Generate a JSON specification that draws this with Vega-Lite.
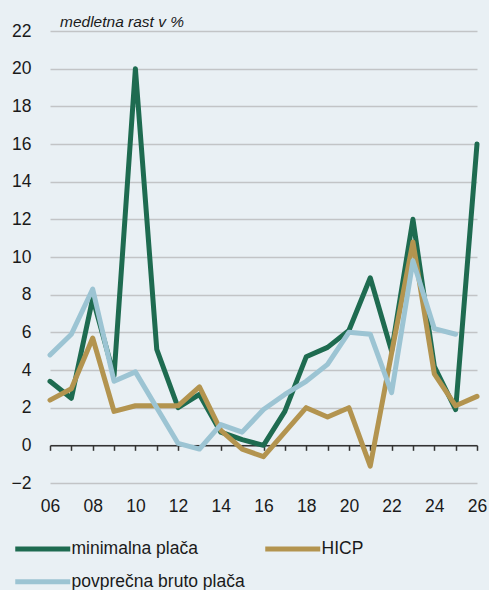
{
  "$schema": "https://vega.github.io/schema/vega-lite/v6.json",
  "width": 427,
  "height": 452,
  "autosize": {"type": "none"},
  "padding": {"left": 50, "top": 31, "right": 12, "bottom": 107},
  "background": "#e9f0f4",
  "config": {"view": {"stroke": null}, "font": "Liberation Sans"},
  "title": {
    "text": "medletna rast v %",
    "anchor": "start",
    "frame": "group",
    "fontStyle": "italic",
    "fontWeight": "normal",
    "fontSize": 15.5,
    "font": "Liberation Sans",
    "color": "#1a1a1a",
    "dx": 10,
    "offset": -8
  },
  "data": {
    "values": [
      {"leto": 2006, "serija": "minimalna plača", "vrednost": 3.4},
      {"leto": 2007, "serija": "minimalna plača", "vrednost": 2.5},
      {"leto": 2008, "serija": "minimalna plača", "vrednost": 7.8},
      {"leto": 2009, "serija": "minimalna plača", "vrednost": 3.7},
      {"leto": 2010, "serija": "minimalna plača", "vrednost": 20.0},
      {"leto": 2011, "serija": "minimalna plača", "vrednost": 5.1},
      {"leto": 2012, "serija": "minimalna plača", "vrednost": 2.0},
      {"leto": 2013, "serija": "minimalna plača", "vrednost": 2.7},
      {"leto": 2014, "serija": "minimalna plača", "vrednost": 0.7},
      {"leto": 2015, "serija": "minimalna plača", "vrednost": 0.3},
      {"leto": 2016, "serija": "minimalna plača", "vrednost": 0.0},
      {"leto": 2017, "serija": "minimalna plača", "vrednost": 1.8},
      {"leto": 2018, "serija": "minimalna plača", "vrednost": 4.7},
      {"leto": 2019, "serija": "minimalna plača", "vrednost": 5.2},
      {"leto": 2020, "serija": "minimalna plača", "vrednost": 6.1},
      {"leto": 2021, "serija": "minimalna plača", "vrednost": 8.9},
      {"leto": 2022, "serija": "minimalna plača", "vrednost": 5.0},
      {"leto": 2023, "serija": "minimalna plača", "vrednost": 12.0},
      {"leto": 2024, "serija": "minimalna plača", "vrednost": 4.2},
      {"leto": 2025, "serija": "minimalna plača", "vrednost": 1.9},
      {"leto": 2026, "serija": "minimalna plača", "vrednost": 16.0},
      {"leto": 2006, "serija": "HICP", "vrednost": 2.4},
      {"leto": 2007, "serija": "HICP", "vrednost": 3.0},
      {"leto": 2008, "serija": "HICP", "vrednost": 5.7},
      {"leto": 2009, "serija": "HICP", "vrednost": 1.8},
      {"leto": 2010, "serija": "HICP", "vrednost": 2.1},
      {"leto": 2011, "serija": "HICP", "vrednost": 2.1},
      {"leto": 2012, "serija": "HICP", "vrednost": 2.1},
      {"leto": 2013, "serija": "HICP", "vrednost": 3.1},
      {"leto": 2014, "serija": "HICP", "vrednost": 0.8},
      {"leto": 2015, "serija": "HICP", "vrednost": -0.2},
      {"leto": 2016, "serija": "HICP", "vrednost": -0.6},
      {"leto": 2017, "serija": "HICP", "vrednost": 0.7},
      {"leto": 2018, "serija": "HICP", "vrednost": 2.0},
      {"leto": 2019, "serija": "HICP", "vrednost": 1.5},
      {"leto": 2020, "serija": "HICP", "vrednost": 2.0},
      {"leto": 2021, "serija": "HICP", "vrednost": -1.1},
      {"leto": 2022, "serija": "HICP", "vrednost": 4.9},
      {"leto": 2023, "serija": "HICP", "vrednost": 10.8},
      {"leto": 2024, "serija": "HICP", "vrednost": 3.8},
      {"leto": 2025, "serija": "HICP", "vrednost": 2.1},
      {"leto": 2026, "serija": "HICP", "vrednost": 2.6},
      {"leto": 2006, "serija": "povprečna bruto plača", "vrednost": 4.8},
      {"leto": 2007, "serija": "povprečna bruto plača", "vrednost": 5.9},
      {"leto": 2008, "serija": "povprečna bruto plača", "vrednost": 8.3},
      {"leto": 2009, "serija": "povprečna bruto plača", "vrednost": 3.4},
      {"leto": 2010, "serija": "povprečna bruto plača", "vrednost": 3.9},
      {"leto": 2011, "serija": "povprečna bruto plača", "vrednost": 2.0},
      {"leto": 2012, "serija": "povprečna bruto plača", "vrednost": 0.1},
      {"leto": 2013, "serija": "povprečna bruto plača", "vrednost": -0.2},
      {"leto": 2014, "serija": "povprečna bruto plača", "vrednost": 1.1},
      {"leto": 2015, "serija": "povprečna bruto plača", "vrednost": 0.7},
      {"leto": 2016, "serija": "povprečna bruto plača", "vrednost": 1.9},
      {"leto": 2017, "serija": "povprečna bruto plača", "vrednost": 2.7},
      {"leto": 2018, "serija": "povprečna bruto plača", "vrednost": 3.4},
      {"leto": 2019, "serija": "povprečna bruto plača", "vrednost": 4.3},
      {"leto": 2020, "serija": "povprečna bruto plača", "vrednost": 6.0},
      {"leto": 2021, "serija": "povprečna bruto plača", "vrednost": 5.9},
      {"leto": 2022, "serija": "povprečna bruto plača", "vrednost": 2.8},
      {"leto": 2023, "serija": "povprečna bruto plača", "vrednost": 9.8},
      {"leto": 2024, "serija": "povprečna bruto plača", "vrednost": 6.2},
      {"leto": 2025, "serija": "povprečna bruto plača", "vrednost": 5.9}
    ]
  },
  "mark": {"type": "line", "strokeWidth": 5, "strokeJoin": "round", "strokeCap": "round"},
  "encoding": {
    "x": {
      "field": "leto",
      "type": "quantitative",
      "scale": {"domain": [2006, 2026], "nice": false, "zero": false},
      "axis": {
        "orient": "bottom",
        "offset": -37.67,
        "values": [2006, 2007, 2008, 2009, 2010, 2011, 2012, 2013, 2014, 2015, 2016, 2017, 2018, 2019, 2020, 2021, 2022, 2023, 2024, 2025, 2026],
        "labelExpr": "datum.value % 2 == 0 ? ((datum.value - 2000 < 10 ? '0' : '') + (datum.value - 2000)) : ''",
        "grid": false,
        "domain": true,
        "domainColor": "#333333",
        "domainWidth": 1.5,
        "ticks": true,
        "tickColor": "#333333",
        "tickWidth": 1.5,
        "tickSize": 5,
        "labelPadding": 47,
        "labelFontSize": 17.5,
        "labelFont": "Liberation Sans",
        "labelColor": "#1a1a1a",
        "labelOverlap": false,
        "labelFlush": false,
        "title": null
      }
    },
    "y": {
      "field": "vrednost",
      "type": "quantitative",
      "scale": {"domain": [-2, 22], "nice": false, "zero": false},
      "axis": {
        "values": [-2, 0, 2, 4, 6, 8, 10, 12, 14, 16, 18, 20, 22],
        "domain": false,
        "ticks": false,
        "tickSize": 0,
        "labelPadding": 19,
        "labelFontSize": 17.5,
        "labelFont": "Liberation Sans",
        "labelColor": "#1a1a1a",
        "grid": true,
        "gridColor": "#c2c4c6",
        "gridWidth": 1.5,
        "title": null
      }
    },
    "color": {
      "field": "serija",
      "type": "nominal",
      "sort": null,
      "scale": {
        "domain": ["minimalna plača", "HICP", "povprečna bruto plača"],
        "range": ["#1e6b50", "#b3944f", "#9cc4d3"]
      },
      "legend": {
        "orient": "none",
        "legendX": -16,
        "legendY": 509,
        "direction": "horizontal",
        "columns": 2,
        "title": null,
        "padding": 0,
        "symbolType": "M-5,0H5",
        "symbolSize": 121,
        "symbolStrokeWidth": 5,
        "labelFontSize": 17.5,
        "labelFont": "Liberation Sans",
        "labelColor": "#1a1a1a",
        "labelOffset": 20,
        "labelLimit": 400,
        "columnPadding": 10,
        "rowPadding": 12
      }
    }
  }
}
